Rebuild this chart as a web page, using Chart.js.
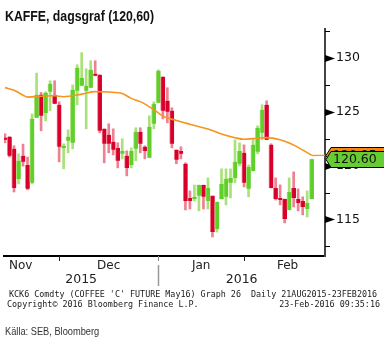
<!DOCTYPE html>
<html><head><meta charset="utf-8">
<script src="https://cdn.jsdelivr.net/npm/chart.js@4.4.1/dist/chart.umd.min.js"></script>
<style>
html,body{margin:0;padding:0;background:#fff;}
#wrap{position:relative;width:384px;height:344px;overflow:hidden;background:#fff;}
canvas{position:absolute;left:0;top:0;}
.t{position:absolute;white-space:pre;}
#title{left:5px;top:8px;font:bold 15px/15px "Liberation Sans",Arial,sans-serif;color:#111;transform:scaleX(0.82);transform-origin:0 0;}
.bb{font:8.4px/10px "DejaVu Sans Mono",monospace;color:#1a1a1a;}
#src{left:5px;top:325px;font:11.3px/12px "Liberation Sans",Arial,sans-serif;color:#333;transform:scaleX(0.82);transform-origin:0 0;}
</style></head>
<body><div id="wrap"><canvas id="c" width="384" height="344"></canvas>
<div id="title" class="t">KAFFE, dagsgraf (120,60)</div>
<div class="t bb" style="left:9px;top:288.6px">KCK6 Comdty (COFFEE 'C' FUTURE May16) Graph 26  Daily 21AUG2015-23FEB2016</div>
<div class="t bb" style="left:7px;top:299px">Copyright© 2016 Bloomberg Finance L.P.</div>
<div class="t bb" style="right:4px;top:299px">23-Feb-2016 09:35:16</div>
<div id="src" class="t">Källa: SEB, Bloomberg</div>
</div>
<script>
// ---- categories (trading days) ----
const dates = [
 '2015-11-12','2015-11-13','2015-11-16','2015-11-17','2015-11-18','2015-11-19','2015-11-20','2015-11-23','2015-11-24','2015-11-25','2015-11-27','2015-11-30',
 '2015-12-01','2015-12-02','2015-12-03','2015-12-04','2015-12-07','2015-12-08','2015-12-09','2015-12-10','2015-12-11','2015-12-14','2015-12-15','2015-12-16','2015-12-17','2015-12-18','2015-12-21','2015-12-22','2015-12-23','2015-12-24','2015-12-28','2015-12-29','2015-12-30','2015-12-31',
 '2016-01-04','2016-01-05','2016-01-06','2016-01-07','2016-01-08','2016-01-11','2016-01-12','2016-01-13','2016-01-14','2016-01-15','2016-01-19','2016-01-20','2016-01-21','2016-01-22','2016-01-25','2016-01-26','2016-01-27','2016-01-28','2016-01-29',
 '2016-02-01','2016-02-02','2016-02-03','2016-02-04','2016-02-05','2016-02-08','2016-02-09','2016-02-10','2016-02-11','2016-02-12','2016-02-16','2016-02-17','2016-02-18','2016-02-19','2016-02-22','2016-02-23'
];
// ---- OHLC series ----
const openP = [122.60,122.68,121.57,118.76,120.91,120.07,118.40,124.45,126.59,124.90,126.86,126.59,125.66,121.65,122.31,122.12,126.95,127.42,126.95,127.24,128.54,128.45,123.42,122.87,122.21,121.65,121.10,120.91,120.07,121.56,123.14,121.75,120.73,123.89,125.84,128.26,126.03,125.10,121.47,121.37,120.17,117.00,116.90,117.19,118.20,116.72,117.19,114.11,116.90,117.10,118.40,118.86,120.17,121.19,117.84,119.50,121.28,123.05,125.66,121.93,117.93,117.00,116.90,115.88,117.93,116.90,116.72,115.97,116.90];
const highP = [122.96,122.70,121.85,121.10,122.00,120.80,124.80,128.60,126.80,126.86,127.89,127.89,125.93,122.03,123.33,127.50,129.38,130.50,129.00,129.75,129.75,128.45,123.42,123.89,123.42,122.12,122.50,121.37,121.65,123.52,123.52,121.84,124.63,125.93,128.91,128.26,127.24,125.38,121.47,121.75,120.26,117.65,118.20,118.20,118.20,118.86,117.19,116.63,119.70,119.70,119.70,122.40,122.12,121.93,120.07,122.50,123.70,125.66,126.03,122.03,118.86,118.21,116.90,118.86,119.42,117.84,117.10,117.65,120.60];
const lowP  = [122.12,120.80,117.55,118.30,119.95,117.75,118.30,124.45,123.24,124.16,125.10,125.75,120.35,119.70,121.19,121.56,125.66,127.42,123.42,127.24,128.35,123.05,120.26,121.19,121.00,119.79,120.63,119.05,119.79,120.45,121.19,120.63,120.73,123.42,125.84,124.35,123.98,121.65,120.17,120.63,115.88,115.97,116.72,115.80,115.97,115.97,113.37,113.83,116.90,116.35,117.00,118.40,119.98,118.02,117.10,119.50,121.10,122.40,122.40,117.93,116.81,116.35,114.67,115.88,116.16,115.79,115.42,115.23,116.90];
const closeP= [122.40,120.91,117.93,120.45,120.35,117.84,124.35,126.59,124.63,126.77,127.60,125.75,121.75,121.84,122.68,127.05,129.10,128.17,127.42,128.91,128.35,123.24,122.03,122.03,121.47,120.45,121.37,119.79,121.37,123.14,122.03,121.37,123.61,125.75,128.82,125.10,125.00,122.03,120.54,121.10,116.72,116.72,117.10,118.20,117.10,117.93,113.83,116.63,118.30,118.77,118.86,120.35,121.37,118.40,119.88,121.93,123.52,125.19,122.40,117.93,116.90,116.81,115.04,117.56,117.00,116.53,116.16,116.53,120.60];
// ---- moving average (read at these trading-day positions) ----
const maIdx = [0,2,4,5,8,11,13,17,20,23,26,28,30,33,35,38,41,45,48,51,53,56,58,61,63,65,68];
const maVal = [127.25,127.0,126.55,126.37,126.45,126.49,126.4,126.65,126.88,126.84,126.7,126.25,125.95,125.2,124.6,124.2,123.85,123.4,122.95,122.6,122.45,122.55,122.6,122.4,122.1,121.7,120.95];
// ---- axis ticks ----
const yTickValues = [112.5,115,117.5,120,122.5,125,127.5,130,132.5];
const yLabelStep = 5;
const monthNames = ['Jan','Feb','Mar','Apr','May','Jun','Jul','Aug','Sep','Oct','Nov','Dec'];
const lastPrice = 120.60;

const RED='#d8002b', RED_L='#ee8191', GREEN='#5fcf2c', GREEN_L='#a9e279', MA='#f7941d';
const idx = dates.map((d,i)=>i);
const up = closeP.map((c,i)=>c>=openP[i]);
const bodyData = idx.map(i=>({x:i, y:[openP[i], closeP[i]]}));
const wickData = idx.map(i=>({x:i, y:[lowP[i], highP[i]]}));
const maData = maIdx.map((x,k)=>({x:x, y:maVal[k]}));

const deco = {
  id:'deco',
  afterDraw(chart){
    const {ctx, chartArea:ca, scales:{x, y}} = chart;
    ctx.save();
    yTickValues.forEach(v=>{
      const py = Math.round(y.getPixelForValue(v))+0.5;
      ctx.fillStyle='#000'; ctx.strokeStyle='#000'; ctx.lineWidth=1;
      if (v % yLabelStep === 0){
        ctx.beginPath(); ctx.moveTo(ca.right, py-3.5); ctx.lineTo(ca.right+10, py); ctx.lineTo(ca.right, py+3.5); ctx.closePath(); ctx.fill();
      } else {
        ctx.beginPath(); ctx.moveTo(ca.right, py); ctx.lineTo(ca.right+5, py); ctx.stroke();
      }
    });
    const months = [];
    dates.forEach((d,i)=>{
      const m = d.slice(0,7);
      if (!months.length || months[months.length-1].key!==m) months.push({key:m, year:d.slice(0,4), mon:+d.slice(5,7), start:i});
    });
    const px = months.map((m,k)=> k===0 ? ca.left : x.getPixelForValue(m.start));
    ctx.font='12px "DejaVu Sans"'; ctx.fillStyle='#222'; ctx.textBaseline='alphabetic';
    months.forEach((m,k)=>{
      const l = px[k], r = k<months.length-1 ? px[k+1] : ca.right;
      if (k>0){
        const newYear = months[k-1].year!==m.year;
        ctx.strokeStyle = newYear ? '#888' : '#222'; ctx.lineWidth=1;
        ctx.beginPath(); ctx.moveTo(Math.round(l)+0.5, ca.bottom); ctx.lineTo(Math.round(l)+0.5, ca.bottom+5); ctx.stroke();
        if (newYear){
          ctx.strokeStyle='#999'; ctx.lineWidth=1.5;
          ctx.beginPath(); ctx.moveTo(Math.round(l)+0.5, ca.bottom+9); ctx.lineTo(Math.round(l)+0.5, ca.bottom+30); ctx.stroke();
        }
      }
      const name = monthNames[m.mon-1];
      if (k===0){ ctx.textAlign='left'; ctx.fillText(name, ca.left+5, ca.bottom+13); }
      else { ctx.textAlign='center'; ctx.fillText(name, (l+r)/2 + (k===months.length-1 ? 3 : 0), ca.bottom+13); }
    });
    const years = [];
    months.forEach((m,k)=>{
      if (!years.length || years[years.length-1].year!==m.year) years.push({year:m.year, l:px[k]});
    });
    ctx.font='12.5px "DejaVu Sans"'; ctx.textAlign='center';
    years.forEach((yv,k)=>{
      const r = k<years.length-1 ? years[k+1].l : ca.right;
      ctx.fillText(yv.year, (yv.l+r)/2, ca.bottom+27);
    });
    const lastIdx = maIdx[maIdx.length-1];
    const maY = y.getPixelForValue(maVal[maVal.length-1]);
    ctx.strokeStyle=MA; ctx.lineWidth=1.3;
    ctx.beginPath(); ctx.moveTo(x.getPixelForValue(lastIdx), maY); ctx.lineTo(ca.right, maY); ctx.stroke();
    function tag(py, fill, text){
      const x0 = ca.right+1, h=16, w=70;
      ctx.beginPath();
      ctx.moveTo(x0, py); ctx.lineTo(x0+5, py-h/2); ctx.lineTo(x0+w, py-h/2); ctx.lineTo(x0+w, py+h/2); ctx.lineTo(x0+5, py+h/2); ctx.closePath();
      ctx.fillStyle=fill; ctx.fill(); ctx.strokeStyle='#000'; ctx.lineWidth=1; ctx.stroke();
      ctx.fillStyle='#111'; ctx.font='12.5px "DejaVu Sans"'; ctx.textAlign='left'; ctx.textBaseline='middle';
      ctx.fillText(text, x0+7, py+0.5);
    }
    const pY = y.getPixelForValue(lastPrice);
    tag(Math.round(Math.min(maY, pY-4.5))+0.5, '#f7860f', maVal[maVal.length-1].toFixed(2));
    tag(Math.round(pY)+0.5, '#66cc33', lastPrice.toFixed(2));
    ctx.restore();
  }
};

new Chart(document.getElementById('c'), {
  type:'bar',
  data:{datasets:[
    {type:'line', data:maData, borderColor:MA, borderWidth:1.6, pointRadius:0, cubicInterpolationMode:'monotone', order:0},
    {data:bodyData, backgroundColor:up.map(u=>u?GREEN:RED), borderColor:up.map(u=>u?GREEN_L:RED_L),
     borderWidth:{left:1,right:0,top:0,bottom:0}, borderSkipped:false, barThickness:4.5, grouped:false, order:1},
    {data:wickData, backgroundColor:up.map(u=>u?GREEN_L:RED_L), barThickness:2, grouped:false, order:2}
  ]},
  options:{
    responsive:false, animation:false, events:[],
    layout:{padding:{left:4, top:29, right:0, bottom:0}},
    plugins:{legend:{display:false}, tooltip:{enabled:false}},
    scales:{
      x:{type:'linear', min:-0.22, max:70.95, offset:false, grid:{display:false, drawTicks:false}, ticks:{display:false},
         border:{display:true, color:'#000', width:2}, afterFit(s){ s.height=88; }},
      y:{position:'right', min:111.6, max:132.7,
         afterBuildTicks(s){ s.ticks = yTickValues.map(v=>({value:v})); },
         ticks:{padding:11, color:'#111', font:{family:'DejaVu Sans', size:12.5}, callback:v=> (v%yLabelStep===0 ? String(v) : '')},
         grid:{display:false, drawTicks:false}, border:{display:true, color:'#444', width:2}, afterFit(s){ s.width=59; }}
    }
  },
  plugins:[deco]
});
</script>
</body></html>
